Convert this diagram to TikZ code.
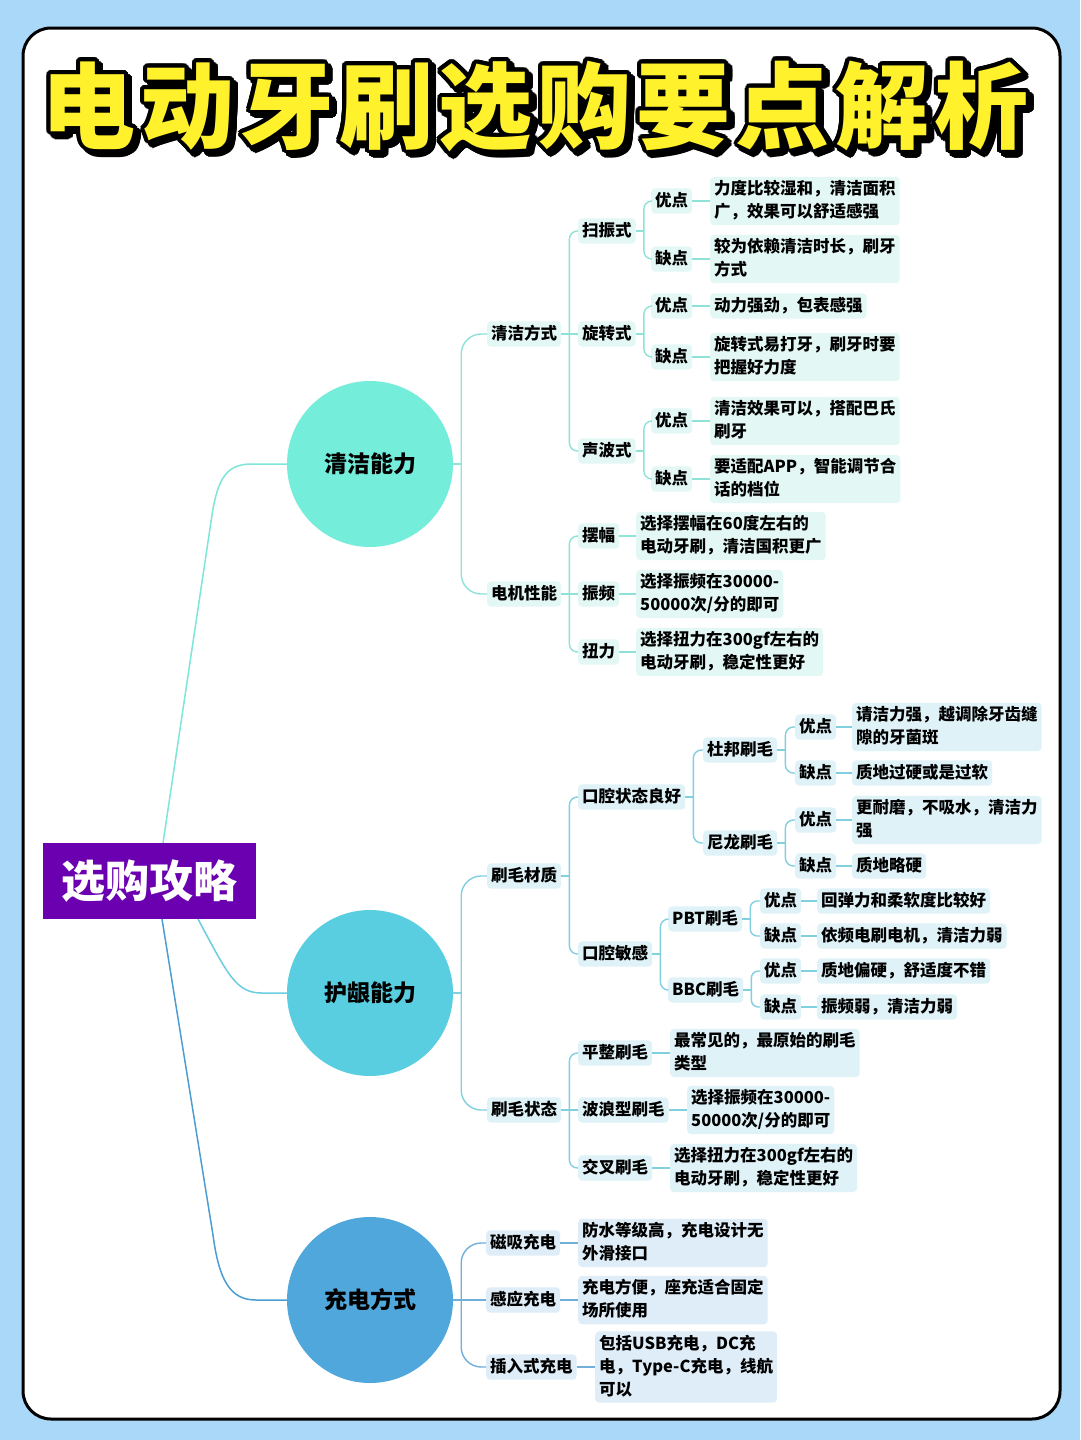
\documentclass[tikz,border=0pt]{standalone}
\usepackage{fontspec}
\setmainfont{Noto Sans CJK SC}
\usetikzlibrary{calc}
\definecolor{bgblue}{HTML}{AAD8F9}
\definecolor{cc1}{HTML}{74EDDB}
\definecolor{cc2}{HTML}{58CEE0}
\definecolor{cc3}{HTML}{50A7DB}
\definecolor{r1}{HTML}{7DE6D8}
\definecolor{r2}{HTML}{6ACDE0}
\definecolor{r3}{HTML}{4D9DD3}
\definecolor{f1}{HTML}{E3F8F4}
\definecolor{f2}{HTML}{DFF2F8}
\definecolor{f3}{HTML}{DEEDF8}
\definecolor{l1}{HTML}{8DE3D7}
\definecolor{l2}{HTML}{80D0E0}
\definecolor{l3}{HTML}{72AEDA}
\definecolor{purp}{HTML}{6B00B0}
\definecolor{ttlyellow}{HTML}{FFF12B}
\newcommand\mystrut{\rule[-3.5pt]{0pt}{16.5pt}}
\newcommand\lnk[4][8]{%
  \draw[#2] (#3.east) -- ++(8,0);
  \draw[#2,rounded corners=#1] ($(#3.east)+(8,0)$) |- (#4.west);}
\newcommand\slnk[3]{\draw[#1] (#2.east) -- (#3.west);}
\tikzset{
  txt/.style={font=\fontsize{16.5}{23}\selectfont\bfseries, align=left,
    rounded corners=4pt, inner xsep=4pt, inner ysep=3.8pt, anchor=west,
    execute at begin node=\mystrut, execute at end node=\mystrut},
  n1/.style={txt, fill=f1}, n2/.style={txt, fill=f2}, n3/.style={txt, fill=f3},
  w1/.style={draw=l1, line width=1.4pt},
  w2/.style={draw=l2, line width=1.4pt},
  w3/.style={draw=l3, line width=1.4pt},
  topic/.style={circle, minimum size=166pt, inner sep=0pt,
    font=\fontsize{23}{23}\selectfont\bfseries},
  ttl/.style={font=\fontsize{94}{94}\selectfont\bfseries\addfontfeature{LetterSpace=5.5}, inner sep=0pt}
}
\begin{document}
\begin{tikzpicture}[x=1pt,y=-1pt]
\useasboundingbox (0,0) rectangle (1080,1440);
\fill[bgblue] (0,0) rectangle (1080,1440);
\draw[line width=3pt, fill=white, rounded corners=28pt] (23,28) rectangle (1060,1419);

% title
\foreach \a in {0,15,...,345} {
  \node[ttl, text=black] (tsh\a) at ($(535,106)+(4,4)+(\a:4)$) {电动牙刷选购要点解析};
  \node[ttl, text=black] (tol\a) at ($(535,106)+(\a:4)$) {电动牙刷选购要点解析};
}
\node[ttl, text=ttlyellow] (T) at (535,106) {电动牙刷选购要点解析};

% topics
\node[topic, fill=cc1] (c1) at (370,464) {清洁能力};
\node[topic, fill=cc2] (c2) at (370,993) {护龈能力};
\node[topic, fill=cc3] (c3) at (370,1300) {充电方式};

% root connectors
\coordinate (rt) at (149.5,843);
\coordinate (rb) at (149.5,919);
\draw[r1, line width=1.5pt] ([xshift=13.5]rt) -- (212,515) .. controls (218,476) and (228,464) .. (252,464) -- (c1.west);
\draw[r2, line width=1.5pt] ([xshift=48.5]rb) .. controls (228,975) and (236,993) .. (262,993) -- (c2.west);
\draw[r3, line width=1.5pt] ([xshift=12.5]rb) -- (213,1235) .. controls (219,1280) and (230,1300) .. (256,1300) -- (c3.west);

\node[fill=purp, minimum width=213pt, minimum height=76pt, inner sep=0pt, text=white,
  font=\fontsize{44}{44}\selectfont\bfseries] (root) at (149.5,881) {选购攻略};

% ---------- branch 1
\node[n1] (A) at (487,334) {清洁方式};
\node[n1] (A1) at (578,231) {扫振式};
\node[n1] (A2) at (578,334) {旋转式};
\node[n1] (A3) at (578,451) {声波式};
\node[n1] (A1a) at (651,201) {优点};
\node[n1] (A1b) at (651,259) {缺点};
\node[n1] (A2a) at (651,306) {优点};
\node[n1] (A2b) at (651,357) {缺点};
\node[n1] (A3a) at (651,421) {优点};
\node[n1] (A3b) at (651,479) {缺点};
\node[n1] (A1aL) at (710,201) {力度比较湿和，清洁面积\\广，效果可以舒适感强};
\node[n1] (A1bL) at (710,259) {较为依赖清洁时长，刷牙\\方式};
\node[n1] (A2aL) at (710,306) {动力强劲，包表感强};
\node[n1] (A2bL) at (710,357) {旋转式易打牙，刷牙时要\\把握好力度};
\node[n1] (A3aL) at (710,421) {清洁效果可以，搭配巴氏\\刷牙};
\node[n1] (A3bL) at (710,479) {要适配APP，智能调节合\\话的档位};
\node[n1] (B) at (487,594) {电机性能};
\node[n1] (B1) at (578,536) {摆幅};
\node[n1] (B2) at (578,594) {振频};
\node[n1] (B3) at (578,652) {扭力};
\node[n1] (B1L) at (636,536) {选择摆幅在60度左右的\\电动牙刷，清洁国积更广};
\node[n1] (B2L) at (636,594) {选择振频在30000-\\50000次/分的即可};
\node[n1] (B3L) at (636,652) {选择扭力在300gf左右的\\电动牙刷，稳定性更好};

\lnk[20]{w1}{c1}{A} \lnk[20]{w1}{c1}{B}
\lnk{w1}{A}{A1} \slnk{w1}{A}{A2} \lnk{w1}{A}{A3}
\lnk{w1}{A1}{A1a} \lnk{w1}{A1}{A1b}
\lnk{w1}{A2}{A2a} \lnk{w1}{A2}{A2b}
\lnk{w1}{A3}{A3a} \lnk{w1}{A3}{A3b}
\slnk{w1}{A1a}{A1aL} \slnk{w1}{A1b}{A1bL}
\slnk{w1}{A2a}{A2aL} \slnk{w1}{A2b}{A2bL}
\slnk{w1}{A3a}{A3aL} \slnk{w1}{A3b}{A3bL}
\lnk{w1}{B}{B1} \slnk{w1}{B}{B2} \lnk{w1}{B}{B3}
\slnk{w1}{B1}{B1L} \slnk{w1}{B2}{B2L} \slnk{w1}{B3}{B3L}

% ---------- branch 2
\node[n2] (C) at (487,876) {刷毛材质};
\node[n2] (C1) at (578,797) {口腔状态良好};
\node[n2] (C2) at (578,954) {口腔敏感};
\node[n2] (C1a) at (703,750) {杜邦刷毛};
\node[n2] (C1b) at (703,843) {尼龙刷毛};
\node[n2] (C1a1) at (795,727) {优点};
\node[n2] (C1a2) at (795,773) {缺点};
\node[n2] (C1b1) at (795,820) {优点};
\node[n2] (C1b2) at (795,866) {缺点};
\node[n2] (C1a1L) at (852,727) {请洁力强，越调除牙齿缝\\隙的牙菌斑};
\node[n2] (C1a2L) at (852,773) {质地过硬或是过软};
\node[n2] (C1b1L) at (852,820) {更耐磨，不吸水，清洁力\\强};
\node[n2] (C1b2L) at (852,866) {质地略硬};
\node[n2] (C2a) at (668,919) {PBT刷毛};
\node[n2] (C2b) at (668,990) {BBC刷毛};
\node[n2] (C2a1) at (760,901) {优点};
\node[n2] (C2a2) at (760,936) {缺点};
\node[n2] (C2b1) at (760,971) {优点};
\node[n2] (C2b2) at (760,1007) {缺点};
\node[n2] (C2a1L) at (817,901) {回弹力和柔软度比较好};
\node[n2] (C2a2L) at (817,936) {依频电刷电机，清洁力弱};
\node[n2] (C2b1L) at (817,971) {质地偏硬，舒适度不错};
\node[n2] (C2b2L) at (817,1007) {振频弱，清洁力弱};
\node[n2] (D) at (487,1110) {刷毛状态};
\node[n2] (D1) at (578,1053) {平整刷毛};
\node[n2] (D2) at (578,1110) {波浪型刷毛};
\node[n2] (D3) at (578,1168) {交叉刷毛};
\node[n2] (D1L) at (670,1053) {最常见的，最原始的刷毛\\类型};
\node[n2] (D2L) at (687,1110) {选择振频在30000-\\50000次/分的即可};
\node[n2] (D3L) at (670,1168) {选择扭力在300gf左右的\\电动牙刷，稳定性更好};

\lnk[20]{w2}{c2}{C} \lnk[20]{w2}{c2}{D}
\lnk{w2}{C}{C1} \lnk{w2}{C}{C2}
\lnk{w2}{C1}{C1a} \lnk{w2}{C1}{C1b}
\lnk{w2}{C1a}{C1a1} \lnk{w2}{C1a}{C1a2}
\lnk{w2}{C1b}{C1b1} \lnk{w2}{C1b}{C1b2}
\slnk{w2}{C1a1}{C1a1L} \slnk{w2}{C1a2}{C1a2L}
\slnk{w2}{C1b1}{C1b1L} \slnk{w2}{C1b2}{C1b2L}
\lnk{w2}{C2}{C2a} \lnk{w2}{C2}{C2b}
\lnk[7]{w2}{C2a}{C2a1} \lnk[7]{w2}{C2a}{C2a2}
\lnk[7]{w2}{C2b}{C2b1} \lnk[7]{w2}{C2b}{C2b2}
\slnk{w2}{C2a1}{C2a1L} \slnk{w2}{C2a2}{C2a2L}
\slnk{w2}{C2b1}{C2b1L} \slnk{w2}{C2b2}{C2b2L}
\lnk{w2}{D}{D1} \slnk{w2}{D}{D2} \lnk{w2}{D}{D3}
\slnk{w2}{D1}{D1L} \slnk{w2}{D2}{D2L} \slnk{w2}{D3}{D3L}

% ---------- branch 3
\node[n3] (E1) at (486,1243) {磁吸充电};
\node[n3] (E2) at (486,1300) {感应充电};
\node[n3] (E3) at (486,1367) {插入式充电};
\node[n3] (E1L) at (578,1243) {防水等级高，充电设计无\\外滑接口};
\node[n3] (E2L) at (578,1300) {充电方便，座充适合固定\\场所使用};
\node[n3] (E3L) at (595,1367) {包括USB充电，DC充\\电，Type-C充电，线航\\可以};

\lnk[20]{w3}{c3}{E1} \slnk{w3}{c3}{E2} \lnk[20]{w3}{c3}{E3}
\slnk{w3}{E1}{E1L} \slnk{w3}{E2}{E2L} \slnk{w3}{E3}{E3L}
\end{tikzpicture}
\end{document}
